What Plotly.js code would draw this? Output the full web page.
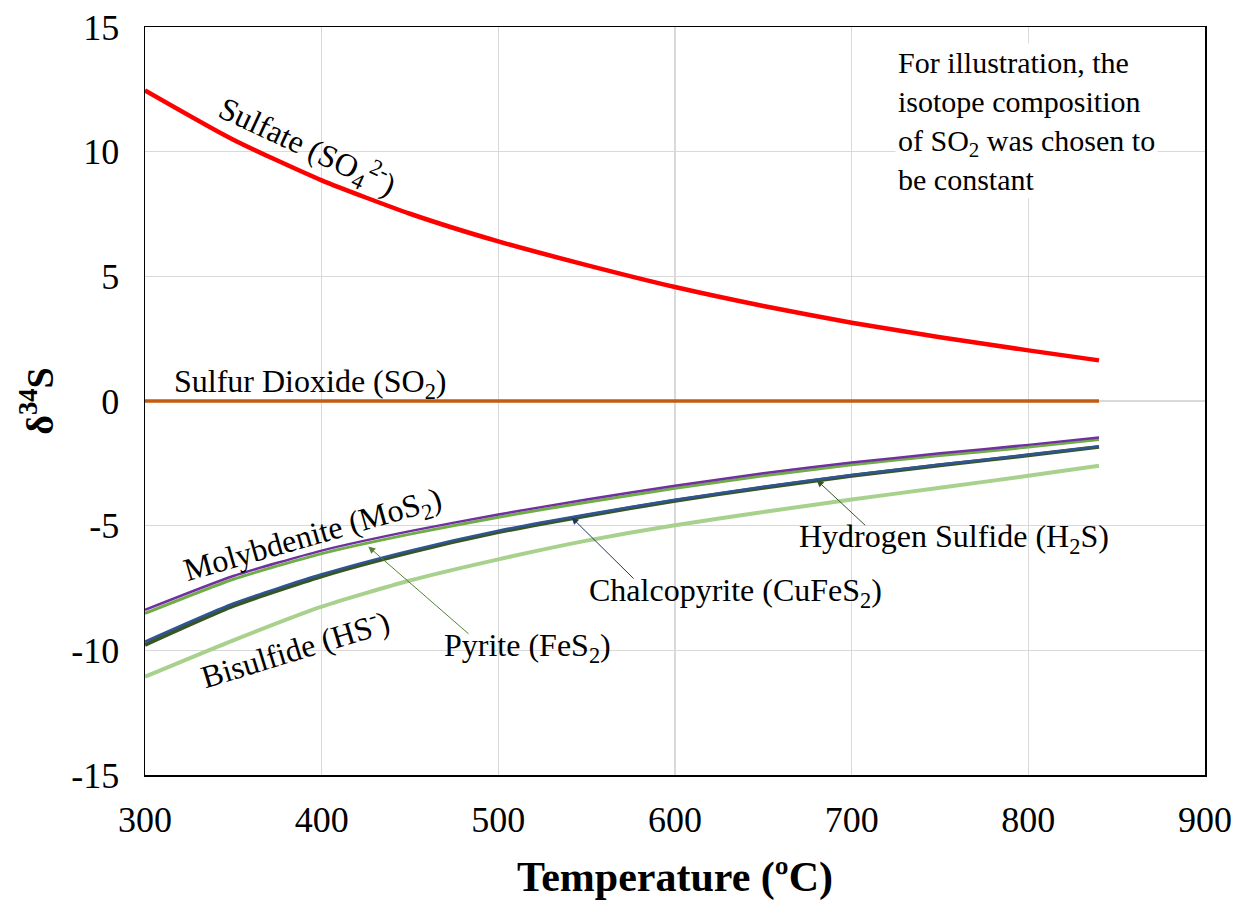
<!DOCTYPE html>
<html>
<head>
<meta charset="utf-8">
<script src="https://cdn.plot.ly/plotly-3.0.1.min.js"></script>
<style>html,body{margin:0;padding:0;background:#fff;}#chart{width:1245px;height:901px;}</style>
</head>
<body>
<div id="chart"></div>
<script>
// Temperature (°C)
const temps = [300, 350, 400, 450, 500, 550, 600, 650, 700, 750, 800, 840];
// δ34S values
const sulfate      = [12.46, 10.48, 8.85, 7.51, 6.40, 5.45, 4.57, 3.81, 3.14, 2.56, 2.03, 1.63];
const sulfurDioxide= [0, 0, 0, 0, 0, 0, 0, 0, 0, 0, 0, 0];
const molybdenite  = [-8.38, -7.02, -6.00, -5.22, -4.55, -3.95, -3.40, -2.90, -2.47, -2.10, -1.76, -1.46];
const pyrite       = [-8.52, -7.15, -6.12, -5.34, -4.66, -4.06, -3.50, -3.00, -2.56, -2.19, -1.85, -1.54];
const chalcopyrite = [-9.65, -8.12, -6.95, -6.00, -5.20, -4.55, -3.96, -3.44, -2.97, -2.55, -2.16, -1.82];
const hydrogenSulfide = [-9.78, -8.22, -7.03, -6.07, -5.26, -4.60, -4.00, -3.48, -3.00, -2.58, -2.18, -1.84];
const bisulfide    = [-11.06, -9.60, -8.25, -7.20, -6.35, -5.60, -4.98, -4.45, -3.95, -3.48, -3.00, -2.60];

const xTicks = [300, 400, 500, 600, 700, 800, 900];
const yTicks = [-15, -10, -5, 0, 5, 10, 15];

const FONT = 'Liberation Serif, Times New Roman, serif';

function line(y, color, width) {
  return {x: temps, y: y, type: 'scatter', mode: 'lines',
          line: {color: color, width: width, shape: 'spline', smoothing: 0.6},
          hoverinfo: 'skip', showlegend: false};
}

const data = [
  line(bisulfide, '#A9D18E', 4),
  line(sulfate, '#FF0000', 4.5),
  line(sulfurDioxide, '#C55A11', 3.5),
  line(hydrogenSulfide, '#375623', 4),
  line(chalcopyrite, '#2F5597', 2.5),
  line(pyrite, '#70AD47', 3),
  line(molybdenite, '#7030A0', 2.5)
];

function label(text, x, y, angle) {
  return {x: x, y: y, xref: 'x', yref: 'y', text: text, showarrow: false,
          textangle: angle || 0, xanchor: 'center', yanchor: 'middle',
          font: {family: FONT, size: 32, color: '#000'}};
}
function arrow(x, y, ax, ay, color) {
  return {x: x, y: y, ax: ax, ay: ay, xref: 'x', yref: 'y', axref: 'x', ayref: 'y',
          text: '', showarrow: true, arrowhead: 2, arrowsize: 1.4, arrowwidth: 1,
          arrowcolor: color, standoff: 0, startstandoff: 0};
}

const annotations = [
  label('Sulfate (SO<sub>4</sub><sup>2-</sup>)', 392, 10.2, 25),
  label('Sulfur Dioxide (SO<sub>2</sub>)', 393.4, 0.72, 0),
  label('Molybdenite (MoS<sub>2</sub>)', 395.1, -5.44, -16),
  label('Bisulfide (HS<sup>-</sup>)', 384.9, -9.86, -17),
  label('Pyrite (FeS<sub>2</sub>)', 516.5, -9.9, 0),
  label('Chalcopyrite (CuFeS<sub>2</sub>)', 634.5, -7.70, 0),
  label('Hydrogen Sulfide (H<sub>2</sub>S)', 758, -5.50, 0),
  arrow(426.4, -5.84, 484, -9.39, '#548235'),
  arrow(541.5, -4.67, 577.4, -7.18, '#1F3864'),
  arrow(680.2, -3.17, 708.5, -5.04, '#375623'),
  {x: 724.5, y: 14.35, xref: 'x', yref: 'y', showarrow: false,
   text: 'For illustration, the<br>isotope composition<br>of SO<sub>2</sub> was chosen to<br>be constant',
   xanchor: 'left', yanchor: 'top', align: 'left', bgcolor: '#fff', borderpad: 2,
   font: {family: FONT, size: 30, color: '#000'}}
];

const layout = {
  width: 1245, height: 901,
  margin: {l: 145, r: 40, t: 27, b: 126},
  paper_bgcolor: '#fff', plot_bgcolor: '#fff',
  showlegend: false,
  xaxis: {
    range: [300, 900], tickvals: xTicks, ticktext: xTicks.map(String),
    showgrid: true, gridcolor: '#D9D9D9', gridwidth: 1.3,
    showline: true, linecolor: '#000', linewidth: 1.5, mirror: true,
    ticks: '', zeroline: false, ticklabelstandoff: 12,
    tickfont: {family: FONT, size: 36, color: '#000'},
    title: {text: '<b>Temperature (ºC)</b>', font: {family: FONT, size: 42, color: '#000'}, standoff: 28}
  },
  yaxis: {
    range: [-15, 15], tickvals: yTicks, ticktext: yTicks.map(String),
    showgrid: true, gridcolor: '#D9D9D9', gridwidth: 1.3,
    showline: true, linecolor: '#000', linewidth: 1.5, mirror: true,
    ticks: '', zeroline: false, ticklabelstandoff: 17,
    tickfont: {family: FONT, size: 36, color: '#000'},
    title: {text: '<b>δ<sup>34</sup>S</b>', font: {family: FONT, size: 38, color: '#000'}, standoff: 6}
  },
  annotations: annotations
};

Plotly.newPlot('chart', data, layout, {displayModeBar: false, staticPlot: true});
</script>
</body>
</html>
